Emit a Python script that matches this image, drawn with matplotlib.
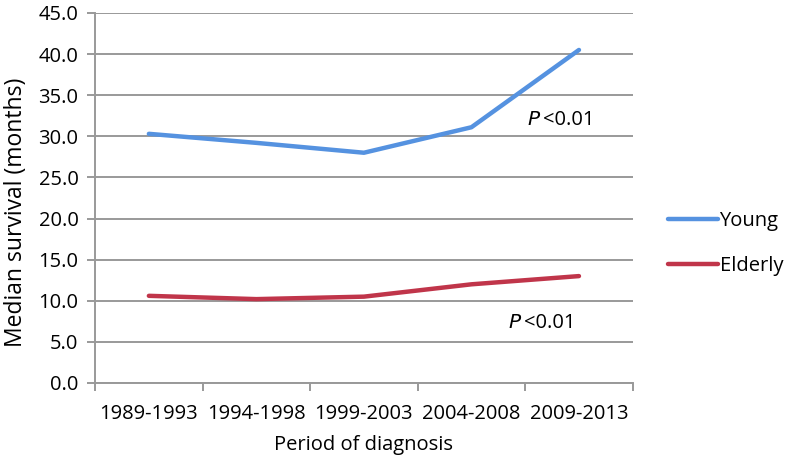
import matplotlib
matplotlib.use('Agg')
import matplotlib.pyplot as plt

periods = ['1989-1993', '1994-1998', '1999-2003', '2004-2008', '2009-2013']
young = [30.3, 29.2, 28.0, 31.1, 40.5]
elderly = [10.6, 10.2, 10.5, 12.0, 13.0]
yticks = [0, 5, 10, 15, 20, 25, 30, 35, 40, 45]

plt.rcParams['font.family'] = ['Open Sans', 'DejaVu Sans']
fs = 14.5

fig = plt.figure(figsize=(7.86, 4.62), dpi=100)
ax = fig.add_axes([0.121, 0.171, 0.684, 0.801])

x = list(range(len(periods)))
ax.plot(x, young, color='#5592e0', lw=3.2, solid_capstyle='round', label='Young')
ax.plot(x, elderly, color='#c0354a', lw=3.2, solid_capstyle='round', label='Elderly')

ax.set_xlim(-0.5, len(periods) - 0.5)
ax.set_ylim(0, 45)
ax.set_yticks(yticks)
ax.set_yticklabels([f'{v:.1f}' for v in yticks])
ax.yaxis.grid(True, color='#999999', lw=1.4)
ax.set_axisbelow(True)

# category labels sit between the boundary ticks
ax.set_xticks([i - 0.5 for i in range(len(periods) + 1)])
ax.set_xticklabels([])
ax.set_xticks(x, minor=True)
ax.set_xticklabels(periods, minor=True)
ax.tick_params(axis='x', which='minor', length=0, labelsize=fs, pad=15)
ax.tick_params(axis='x', which='major', length=6, width=1.4, color='#999999')
ax.tick_params(axis='y', length=6, width=1.4, color='#999999', labelsize=fs, pad=6)

for s in ['top', 'right']:
    ax.spines[s].set_visible(False)
for s in ['left', 'bottom']:
    ax.spines[s].set_color('#999999')
    ax.spines[s].set_linewidth(1.4)

ax.set_ylabel('Median survival (months)', fontsize=16.5)
ax.yaxis.set_label_coords(-0.124, 0.46)
ax.set_xlabel('Period of diagnosis', fontsize=fs, labelpad=8)

ax.text(3.52, 32.0, r'$\it{P}$', fontsize=fs, va='center', ha='left')
ax.text(3.67, 32.0, '<0.01', fontsize=fs, va='center', ha='left')
ax.text(3.34, 7.3, r'$\it{P}$', fontsize=fs, va='center', ha='left')
ax.text(3.49, 7.3, '<0.01', fontsize=fs, va='center', ha='left')

fig.legend(loc='upper left', bbox_to_anchor=(0.827, 0.582), frameon=False,
           fontsize=14.5, handlelength=2.5, handletextpad=0.05, labelspacing=1.25)

plt.savefig('out.png', dpi=100)
